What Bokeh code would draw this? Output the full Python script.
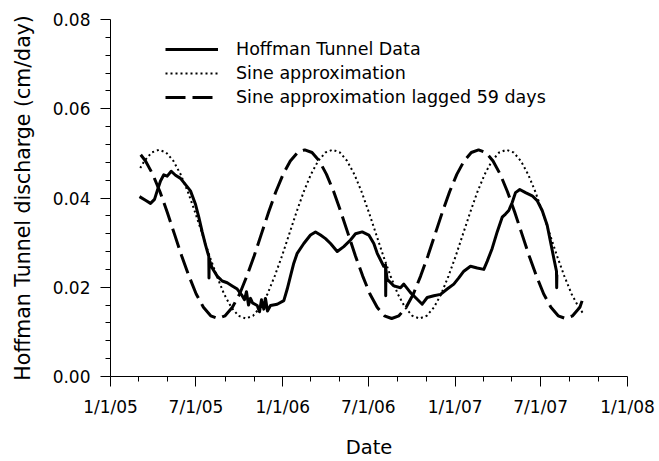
import pandas as pd
from bokeh.plotting import figure
from bokeh.models import Range1d, FixedTicker, Legend, LegendItem, NumeralTickFormatter
from bokeh.embed import file_html
from bokeh.resources import INLINE

BASE = "2005-01-01"

# ---- axis ticks ----
major_tick_dates = ["2005-01-01", "2005-07-01", "2006-01-01", "2006-07-01",
                    "2007-01-01", "2007-07-01", "2008-01-01"]
major_tick_labels = ["1/1/05", "7/1/05", "1/1/06", "7/1/06", "1/1/07", "7/1/07", "1/1/08"]
minor_tick_dates = ["2005-03-01", "2005-05-01", "2005-09-01", "2005-11-01",
                    "2006-03-01", "2006-05-01", "2006-09-01", "2006-11-01",
                    "2007-03-01", "2007-05-01", "2007-09-01", "2007-11-01"]
y_major = [0.0, 0.02, 0.04, 0.06, 0.08]
y_minor = [0.004, 0.008, 0.012, 0.016, 0.024, 0.028, 0.032, 0.036,
           0.044, 0.048, 0.052, 0.056, 0.064, 0.068, 0.072, 0.076]

# ---- data (x = days since 1/1/05) ----
hoffman_days = [61.4, 74.1, 84.7, 93.2, 98.9, 105.9, 112.9, 120.1, 128.6, 137.7, 148.3, 158.9,
                169.4, 180.0, 187.0, 194.2, 201.2, 208.2, 208.6, 209.0, 215.4, 226.0, 236.6,
                247.2, 257.8, 268.4, 278.9, 283.8, 288.0, 292.3, 296.5, 300.8, 310.7, 315.6,
                319.8, 324.7, 328.3, 332.5, 338.9, 353.1, 367.1, 374.3, 381.2, 388.2, 395.4,
                409.4, 423.6, 434.2, 444.8, 455.4, 466.0, 480.2, 494.1, 508.3, 518.9, 533.1,
                547.1, 557.7, 564.9, 578.6, 582.5, 582.9, 583.3, 586.0, 600.0, 614.2, 621.2,
                635.4, 649.6, 660.2, 670.8, 684.8, 699.0, 713.1, 727.1, 737.7, 748.3, 762.5,
                776.7, 790.6, 797.8, 808.4, 819.0, 829.6, 836.6, 843.6, 850.8, 857.8, 866.9,
                879.0, 893.2, 903.7, 914.3, 924.9, 931.9, 938.9, 944.6, 945.0, 945.4]
hoffman_vals = [0.0403, 0.0395, 0.0388, 0.0397, 0.0416, 0.0438, 0.0452, 0.0449, 0.0460, 0.0451,
                0.0444, 0.0430, 0.0416, 0.0386, 0.0357, 0.0324, 0.0295, 0.0269, 0.0221, 0.0262,
                0.0243, 0.0225, 0.0214, 0.0210, 0.0203, 0.0196, 0.0181, 0.0172, 0.0190, 0.0160,
                0.0175, 0.0165, 0.0159, 0.0145, 0.0172, 0.0151, 0.0175, 0.0147, 0.0159, 0.0162,
                0.0170, 0.0196, 0.0225, 0.0254, 0.0276, 0.0298, 0.0317, 0.0324, 0.0317, 0.0309,
                0.0298, 0.0280, 0.0291, 0.0306, 0.0320, 0.0324, 0.0317, 0.0298, 0.0276, 0.0247,
                0.0250, 0.0181, 0.0240, 0.0218, 0.0203, 0.0199, 0.0207, 0.0188, 0.0173, 0.0162,
                0.0177, 0.0181, 0.0184, 0.0196, 0.0207, 0.0221, 0.0236, 0.0247, 0.0243, 0.0240,
                0.0258, 0.0287, 0.0324, 0.0357, 0.0364, 0.0372, 0.0390, 0.0412, 0.0419, 0.0412,
                0.0405, 0.0394, 0.0372, 0.0339, 0.0302, 0.0265, 0.0236, 0.0199, 0.0228]

sine_days = [63.0, 71.8, 87.2, 102.5, 117.8, 133.2, 148.5, 163.8, 179.2, 194.5, 209.8, 225.2,
             240.5, 255.8, 271.2, 286.5, 301.8, 317.2, 332.5, 347.8, 363.2, 378.5, 393.8, 409.2,
             424.5, 439.8, 455.2, 470.5, 485.8, 501.2, 516.5, 531.8, 547.2, 562.5, 577.8, 593.2,
             608.5, 623.8, 639.2, 654.5, 669.8, 685.2, 700.5, 715.8, 731.2, 746.5, 761.8, 777.2,
             792.5, 807.8, 823.2, 838.5, 853.8, 869.2, 884.5, 899.8, 915.2, 930.5, 945.8, 961.2,
             976.5, 991.8, 1002.0]
sine_vals = [0.0467, 0.0483, 0.0502,
             0.0508, 0.0502, 0.0483, 0.0453, 0.0414, 0.0368, 0.0319, 0.0270, 0.0225, 0.0185,
             0.0155, 0.0136, 0.0130, 0.0136, 0.0155, 0.0185, 0.0225, 0.0270, 0.0319, 0.0368,
             0.0414, 0.0453, 0.0483, 0.0502,
             0.0508, 0.0502, 0.0483, 0.0453, 0.0414, 0.0368, 0.0319, 0.0270, 0.0225, 0.0185,
             0.0155, 0.0136, 0.0130, 0.0136, 0.0155, 0.0185, 0.0225, 0.0270, 0.0319, 0.0368,
             0.0414, 0.0453, 0.0483, 0.0502,
             0.0508, 0.0502, 0.0483, 0.0453, 0.0414, 0.0368, 0.0319, 0.0270, 0.0225, 0.0185,
             0.0155, 0.0140]

lagged_days = [64.0, 74.2, 89.5, 104.8, 120.2, 135.5, 150.8, 166.2, 181.5, 196.8, 212.2, 227.5,
               242.8, 258.2, 273.5, 288.8, 304.2, 319.5, 334.8, 350.2, 365.5, 380.8, 396.2,
               411.5, 426.8, 442.2, 457.5, 472.8, 488.2, 503.5, 518.8, 534.2, 549.5, 564.8,
               580.2, 595.5, 610.8, 626.2, 641.5, 656.8, 672.2, 687.5, 702.8, 718.2, 733.5,
               748.8, 764.2, 779.5, 794.8, 810.2, 825.5, 840.8, 856.2, 871.5, 886.8, 902.2,
               917.5, 932.8, 948.2, 963.5, 978.8, 994.2, 999.0]
lagged_vals = [0.0497,
               0.0483, 0.0453, 0.0414, 0.0368, 0.0319, 0.0270, 0.0225, 0.0185,
               0.0155, 0.0136, 0.0130, 0.0136, 0.0155, 0.0185, 0.0225, 0.0270, 0.0319, 0.0368,
               0.0414, 0.0453, 0.0483, 0.0502,
               0.0508, 0.0502, 0.0483, 0.0453, 0.0414, 0.0368, 0.0319, 0.0270, 0.0225, 0.0185,
               0.0155, 0.0136, 0.0130, 0.0136, 0.0155, 0.0185, 0.0225, 0.0270, 0.0319, 0.0368,
               0.0414, 0.0453, 0.0483, 0.0502,
               0.0508, 0.0502, 0.0483, 0.0453, 0.0414, 0.0368, 0.0319, 0.0270, 0.0225, 0.0185,
               0.0155, 0.0136, 0.0130, 0.0136, 0.0155, 0.0170]

series_labels = ["Hoffman Tunnel Data", "Sine approximation", "Sine approximation lagged 59 days"]


def days(s):
    return (pd.Timestamp(s) - pd.Timestamp(BASE)).days


FONT = "DejaVu Sans"

p = figure(width=659, height=461, output_backend="svg", toolbar_location=None,
           x_range=Range1d(0, days("2008-01-01")), y_range=Range1d(0, 0.08),
           min_border_left=110, min_border_right=32, min_border_top=19, min_border_bottom=79)
p.outline_line_color = None
p.xgrid.visible = False
p.ygrid.visible = False
p.background_fill_color = "white"
p.border_fill_color = "white"

r_data = p.line(hoffman_days, hoffman_vals, line_color="black", line_width=3, line_join="round")
r_sine = p.line(sine_days, sine_vals, line_color="black", line_width=2, line_dash="2 3")
r_lag = p.line(lagged_days, lagged_vals, line_color="black", line_width=3, line_dash="20 7")

xa = p.xaxis[0]
xa.ticker = FixedTicker(ticks=[days(d) for d in major_tick_dates],
                        minor_ticks=[days(d) for d in minor_tick_dates])
xa.major_label_overrides = {days(d): lab for d, lab in zip(major_tick_dates, major_tick_labels)}
xa.axis_label = "Date"

ya = p.yaxis[0]
ya.ticker = FixedTicker(ticks=y_major, minor_ticks=y_minor)
ya.formatter = NumeralTickFormatter(format="0.00")
ya.axis_label = "Hoffman Tunnel discharge (cm/day)"

for ax in (xa, ya):
    ax.axis_line_color = "black"
    ax.axis_line_width = 1
    ax.major_tick_line_color = "black"
    ax.minor_tick_line_color = "black"
    ax.major_tick_in = 0
    ax.major_tick_out = 10
    ax.minor_tick_in = 0
    ax.minor_tick_out = 5
    ax.major_label_text_font = FONT
    ax.major_label_text_font_size = "17px"
    ax.major_label_text_color = "black"
    ax.axis_label_text_font = FONT
    ax.axis_label_text_font_size = "19.5px"
    ax.axis_label_text_font_style = "normal"
    ax.axis_label_text_color = "black"
    ax.major_label_standoff = 10

ya.axis_label_text_font_size = "20.5px"
xa.axis_label_standoff = 16
ya.axis_label_standoff = 15

legend = Legend(items=[LegendItem(label=series_labels[0], renderers=[r_data]),
                       LegendItem(label=series_labels[1], renderers=[r_sine]),
                       LegendItem(label=series_labels[2], renderers=[r_lag])],
                location=(55, 269))
legend.glyph_width = 53
legend.glyph_height = 20
legend.label_height = 20
legend.label_standoff = 18
legend.spacing = 4
legend.padding = 0
legend.margin = 0
legend.border_line_color = None
legend.background_fill_alpha = 0
legend.label_text_font = FONT
legend.label_text_font_size = "17.5px"
legend.label_text_color = "black"
p.add_layout(legend)

open("out.html", "w").write(file_html(p, INLINE))
